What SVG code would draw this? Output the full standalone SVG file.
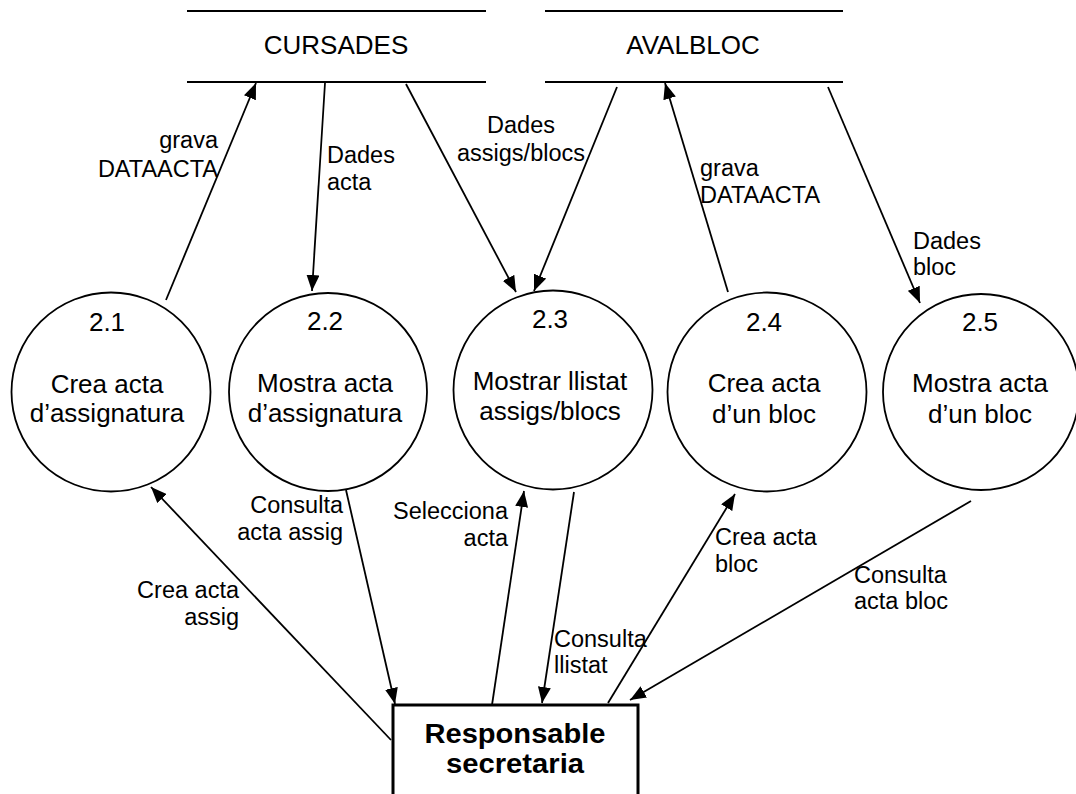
<svg xmlns="http://www.w3.org/2000/svg" width="1076" height="794" viewBox="0 0 1076 794">
<style>
text{font-family:"Liberation Sans",Arial,sans-serif;fill:#000}
.st{font-size:26px;text-anchor:middle}
.pn{font-size:26px;text-anchor:middle}
.lb{font-size:23.5px}
.r{text-anchor:end}
.m{text-anchor:middle}
.bx{font-size:27px;font-weight:bold;text-anchor:middle}
.proc{fill:#fff;stroke:#000;stroke-width:1.8}
.store{stroke:#000;stroke-width:2.2}
.c line{stroke:#000;stroke-width:1.8;marker-end:url(#ah)}
</style>
<defs>
<marker id="ah" markerUnits="userSpaceOnUse" viewBox="0 0 16 13" markerWidth="16" markerHeight="13" refX="16" refY="6.5" orient="auto">
<path d="M0,0 L16,6.5 L0,13 Z" fill="#000"/>
</marker>
</defs>
<rect width="1076" height="794" fill="#fff"/>
<g id="cursades">
<line class="store" x1="187" y1="11" x2="486" y2="11"/>
<line class="store" x1="187" y1="82" x2="486" y2="82"/>
<text class="st" x="336" y="54">CURSADES</text>
</g>
<g id="avalbloc">
<line class="store" x1="545" y1="11" x2="843" y2="11"/>
<line class="store" x1="545" y1="82" x2="843" y2="82"/>
<text class="st" x="693" y="54">AVALBLOC</text>
</g>
<g id="p21">
<circle class="proc" cx="111" cy="392" r="99.5"/>
<text class="pn" x="107" y="331">2.1</text>
<text class="pn" x="107" y="393">Crea acta</text>
<text class="pn" x="107" y="422">d’assignatura</text>
</g>
<g id="p22">
<circle class="proc" cx="328" cy="392" r="99"/>
<text class="pn" x="325" y="330">2.2</text>
<text class="pn" x="325" y="392">Mostra acta</text>
<text class="pn" x="325" y="422">d’assignatura</text>
</g>
<g id="p23">
<circle class="proc" cx="553" cy="390" r="99.5"/>
<text class="pn" x="550" y="328">2.3</text>
<text class="pn" x="550" y="390">Mostrar llistat</text>
<text class="pn" x="550" y="420">assigs/blocs</text>
</g>
<g id="p24">
<circle class="proc" cx="767" cy="392" r="99.5"/>
<text class="pn" x="764" y="331">2.4</text>
<text class="pn" x="764" y="392">Crea acta</text>
<text class="pn" x="764" y="423">d’un bloc</text>
</g>
<g id="p25">
<circle class="proc" cx="981" cy="392" r="98"/>
<text class="pn" x="980" y="331">2.5</text>
<text class="pn" x="980" y="392">Mostra acta</text>
<text class="pn" x="980" y="423">d’un bloc</text>
</g>
<g id="responsable">
<rect x="393" y="705" width="245" height="100" fill="#fff" stroke="#000" stroke-width="3"/>
<text class="bx" x="515" y="743" textLength="181" lengthAdjust="spacingAndGlyphs">Responsable</text>
<text class="bx" x="515" y="773" textLength="138" lengthAdjust="spacingAndGlyphs">secretaria</text>
</g>
<g id="connectors" class="c">
<line x1="166" y1="300" x2="256" y2="83"/>
<line x1="325" y1="83" x2="312" y2="291"/>
<line x1="406" y1="84" x2="516" y2="292"/>
<line x1="617" y1="87" x2="534" y2="291"/>
<line x1="728" y1="292" x2="665" y2="83"/>
<line x1="828" y1="87" x2="920" y2="303"/>
<line x1="391" y1="740" x2="151" y2="487"/>
<line x1="346" y1="490" x2="395" y2="704"/>
<line x1="492" y1="705" x2="524" y2="491"/>
<line x1="574" y1="492" x2="542" y2="703"/>
<line x1="608" y1="703" x2="735" y2="494"/>
<line x1="971" y1="501" x2="630" y2="700"/>
</g>
<g id="labels">
<text class="lb r" x="218" y="148">grava</text>
<text class="lb r" x="218" y="177">DATAACTA</text>
<text class="lb" x="327" y="163">Dades</text>
<text class="lb" x="327" y="190">acta</text>
<text class="lb m" x="521" y="133">Dades</text>
<text class="lb m" x="521" y="161">assigs/blocs</text>
<text class="lb" x="700" y="176">grava</text>
<text class="lb" x="700" y="203">DATAACTA</text>
<text class="lb" x="913" y="249">Dades</text>
<text class="lb" x="913" y="275">bloc</text>
<text class="lb r" x="239" y="598">Crea acta</text>
<text class="lb r" x="239" y="625">assig</text>
<text class="lb r" x="343" y="513">Consulta</text>
<text class="lb r" x="343" y="540">acta assig</text>
<text class="lb r" x="508" y="519">Selecciona</text>
<text class="lb r" x="508" y="546">acta</text>
<text class="lb" x="554" y="647">Consulta</text>
<text class="lb" x="554" y="673">llistat</text>
<text class="lb" x="715" y="545">Crea acta</text>
<text class="lb" x="715" y="572">bloc</text>
<text class="lb" x="854" y="583">Consulta</text>
<text class="lb" x="854" y="609">acta bloc</text>
</g>
</svg>
